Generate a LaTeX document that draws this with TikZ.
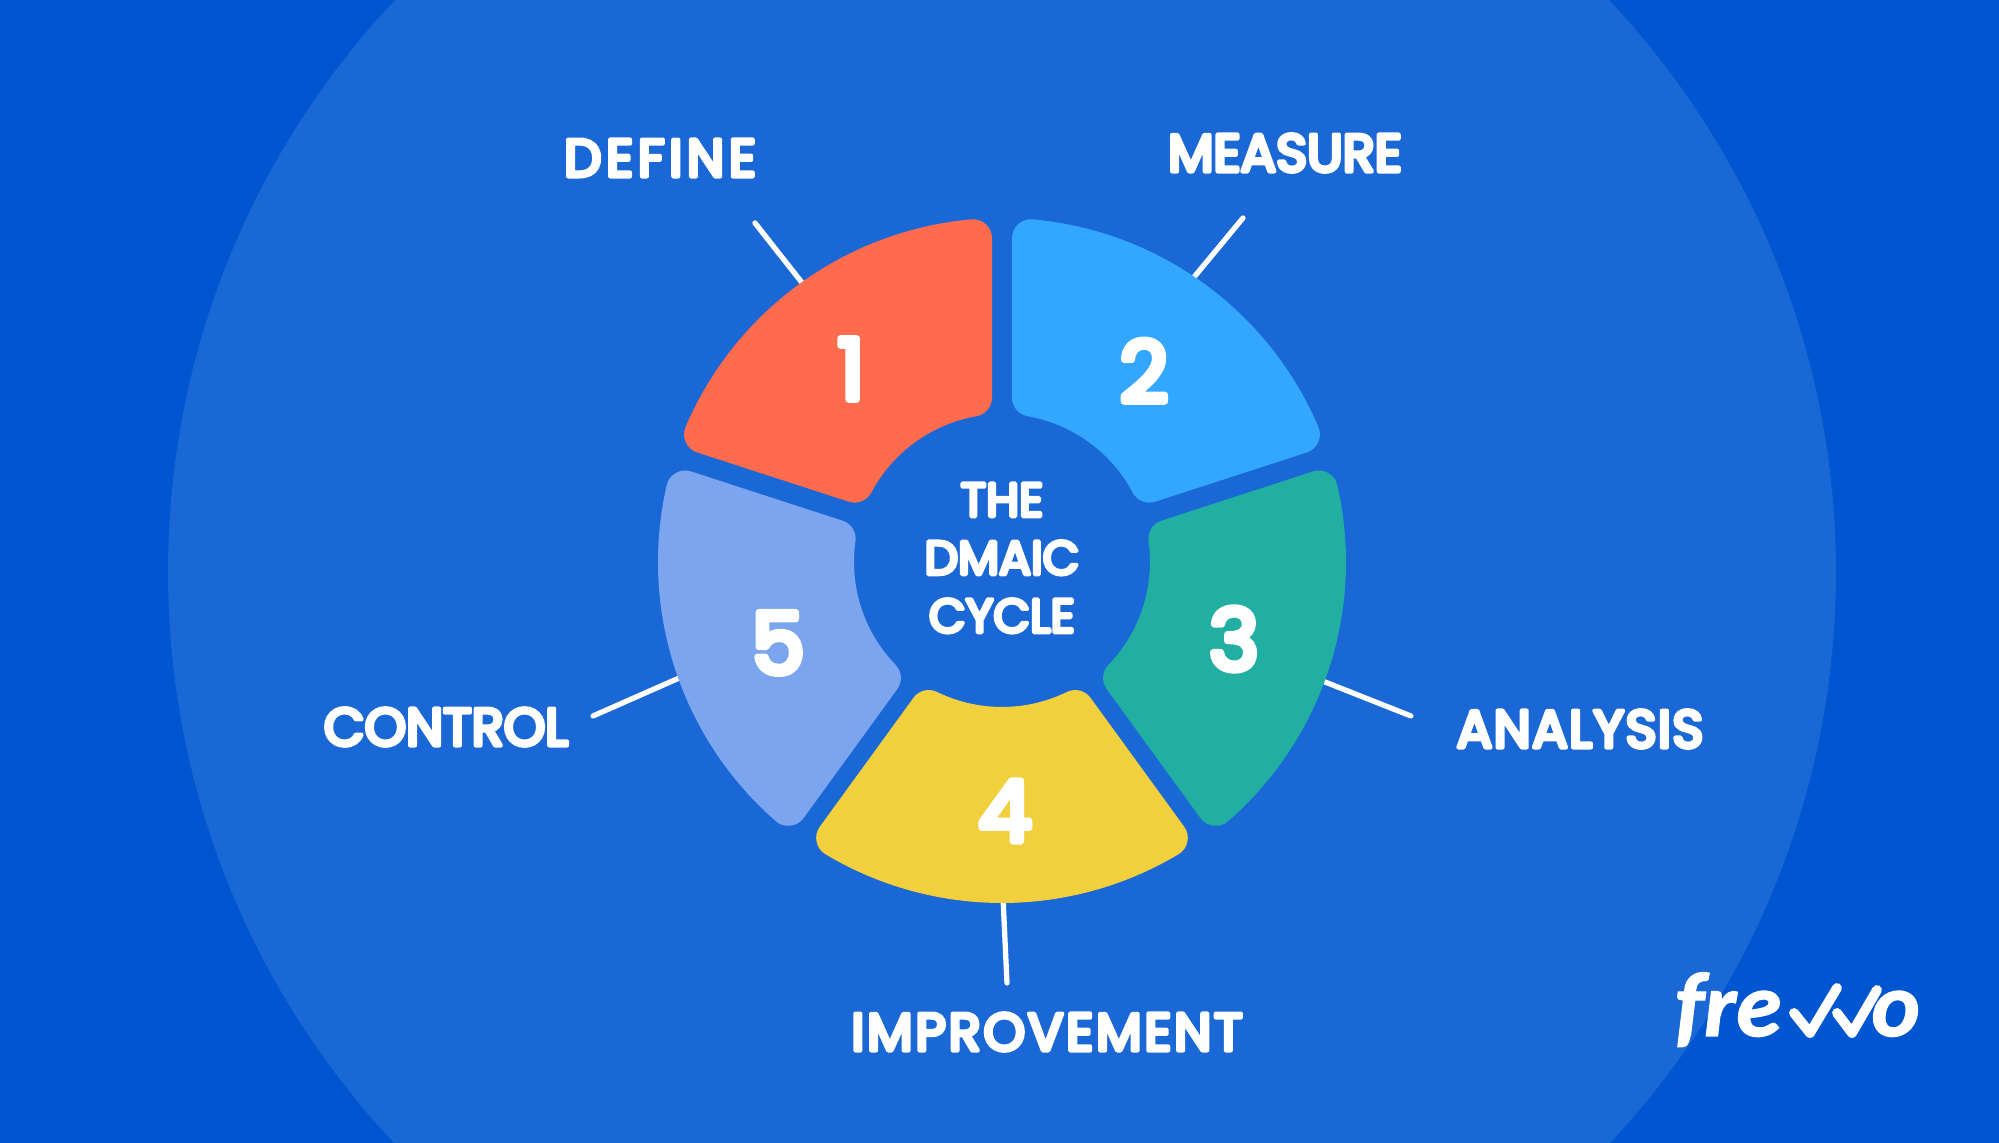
\documentclass[tikz,border=0pt]{standalone}
\usepackage{fontspec}
\setmainfont{Poppins}
\newfontfamily\labelfont[FakeBold=8]{Poppins}
\newfontfamily\logofont[BoldItalicFeatures={FakeBold=1.5}]{Carlito}
\usepackage{xcolor}
\usetikzlibrary{positioning}
\definecolor{bgdark}{HTML}{0055D0}
\definecolor{bglight}{HTML}{1A67D6}
\definecolor{segone}{HTML}{FF6B4D}
\definecolor{segtwo}{HTML}{33A6FF}
\definecolor{segthree}{HTML}{20AFA0}
\definecolor{segfour}{HTML}{F2D03D}
\definecolor{segfive}{HTML}{7BA5EF}
\newcommand{\softjoin}{\special{pdf:code 1 j 1 J}}
\newcommand{\tracked}[2]{\addfontfeature{LetterSpace=#1}#2}
\newcommand{\segment}[3]{%
  \filldraw[#1,line width=0.38cm,line join=round] ({#2-5.12}:325) arc[start angle=#2-5.12,end angle=#3+5.12,radius=325]
    -- ({#3+10}:167) arc[start angle=#3+10,end angle=#2-10,radius=167] -- cycle;}
\tikzset{
  steplabel/.style={text=white,font=\labelfont\softjoin\fontsize{15}{16.5}\selectfont},
  titlelabel/.style={text=white,align=center,font=\labelfont\softjoin\fontsize{13.5}{16.5}\selectfont},
  stepnum/.style={text=white,font=\labelfont\softjoin\fontsize{24}{24}\selectfont},
  logotext/.style={text=white,inner sep=0pt,font=\logofont\bfseries\itshape\fontsize{26}{26}\selectfont},
  leader/.style={white,line width=1.5pt,line cap=round},
  tick/.style={white,line width=2.8pt,line cap=round,line join=round}
}
\begin{document}
\begin{tikzpicture}[x=0.01cm,y=0.01cm]
    \useasboundingbox (-1002,-571) rectangle (997,572);
    \fill[bgdark] (-1002,-571) rectangle (997,572);
    \begin{scope}
      \clip (-1002,-571) rectangle (997,572);
      \fill[bglight] (0,0) circle[radius=834];
    \end{scope}
    \node[steplabel] (define) at (-342,414) {\tracked{9}{DEFINE}};
    \node[steplabel] (measure) at (283,419) {MEASURE};
    \node[steplabel] (analysis) at (578,-157) {\tracked{2.7}{ANALYSIS}};
    \node[steplabel] (improvement) at (45,-460) {\tracked{5.3}{IMPROVEMENT}};
    \node[steplabel] (control) at (-556,-155) {CONTROL};
    \coordinate (defineEnd) at (-247,349);
    \coordinate (defineSeg) at (-195,283);
    \coordinate (measureEnd) at (241,354);
    \coordinate (measureSeg) at (188,290);
    \coordinate (analysisEnd) at (409,-144);
    \coordinate (analysisSeg) at (318,-108);
    \coordinate (improvementEnd) at (5,-411);
    \coordinate (improvementSeg) at (1,-325);
    \coordinate (controlEnd) at (-409,-144);
    \coordinate (controlSeg) at (-316,-103);
    \draw[leader] (defineEnd) -- (defineSeg);
    \draw[leader] (measureEnd) -- (measureSeg);
    \draw[leader] (analysisEnd) -- (analysisSeg);
    \draw[leader] (improvementEnd) -- (improvementSeg);
    \draw[leader] (controlEnd) -- (controlSeg);
    \begin{scope}[yshift=0.1cm]
    \segment{segone}{162}{90}
    \segment{segtwo}{90}{18}
    \segment{segthree}{18}{-54}
    \begin{scope}[yshift=0.03cm]
    \segment{segfour}{-54}{-126}
    \end{scope}
    \segment{segfive}{-126}{-198}
    \node[stepnum] (one) at (-151,193) {1};
    \node[stepnum] (two) at (142,191) {2};
    \node[stepnum] (three) at (232,-77) {3};
    \node[stepnum] (four) at (3,-249) {4};
    \node[stepnum] (five) at (-224,-81) {5};
    \node[titlelabel] (title) at (0,4) {THE\\DMAIC\\CYCLE};
    \end{scope}
    \node[logotext,anchor=base east] (fre) at (780,-464) {fre};
    \node[logotext,anchor=base west] (freo) at (869,-464) {o};
    \draw[tick] (792,-441) -- (808,-461) -- (835,-416);
    \draw[tick] (835,-441) -- (850,-461) -- (875,-418);
\end{tikzpicture}
\end{document}
